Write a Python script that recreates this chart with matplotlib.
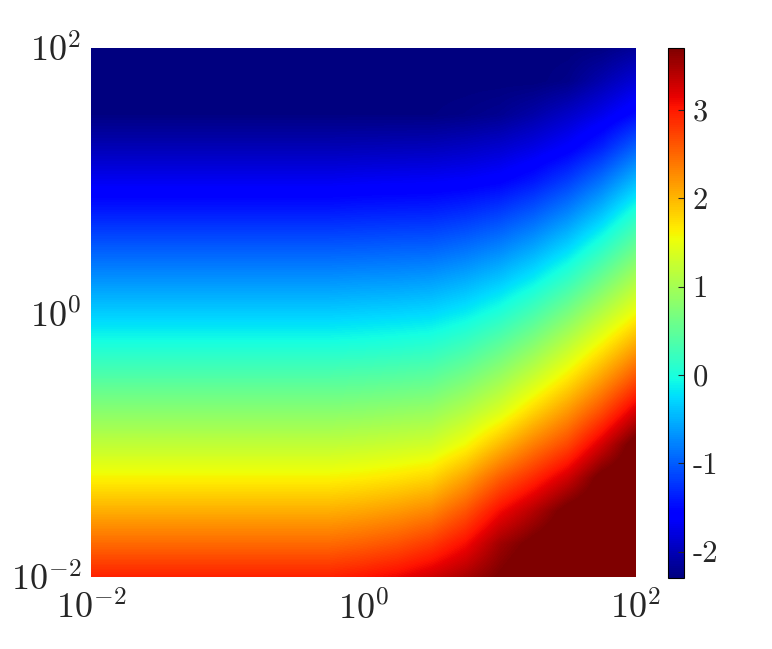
import numpy as np
import matplotlib
matplotlib.use("Agg")
import matplotlib.pyplot as plt

plt.rcParams['mathtext.fontset'] = 'cm'
plt.rcParams['font.family'] = ['cmr10', 'DejaVu Serif']
plt.rcParams['axes.formatter.use_mathtext'] = True

# grid nodes (log10), evenly spaced
log_x = [-2.0, -1.75, -1.5, -1.25, -1.0, -0.75, -0.5, -0.25, 0.0,
         0.25, 0.5, 0.75, 1.0, 1.25, 1.5, 1.75, 2.0]
log_y = [-2.0, -1.75, -1.5, -1.25, -1.0, -0.75, -0.5, -0.25, 0.0,
         0.25, 0.5, 0.75, 1.0, 1.25, 1.5, 1.75, 2.0]

# field values, per column, bottom (1e-2) to top (1e2)
# left half (x < 1) does not change with x
col_left = [2.95, 2.49, 2.05, 1.61, 1.20, 0.80, 0.41, 0.01, -0.34,
            -0.68, -1.02, -1.37, -1.70, -2.01, -2.28, -2.30, -2.30]
col_000 = [3.02, 2.55, 2.10, 1.65, 1.23, 0.83, 0.43, 0.03, -0.32,
           -0.66, -1.01, -1.35, -1.68, -2.00, -2.28, -2.30, -2.30]
col_025 = [3.12, 2.64, 2.18, 1.71, 1.27, 0.87, 0.46, 0.06, -0.30,
           -0.65, -0.99, -1.34, -1.67, -1.99, -2.28, -2.30, -2.30]
col_050 = [3.28, 2.80, 2.30, 1.80, 1.32, 0.91, 0.50, 0.10, -0.27,
           -0.62, -0.98, -1.33, -1.66, -1.98, -2.28, -2.30, -2.30]
col_075 = [3.48, 3.08, 2.62, 2.12, 1.57, 1.11, 0.68, 0.25, -0.16,
           -0.53, -0.90, -1.27, -1.63, -1.94, -2.25, -2.30, -2.30]
col_100 = [3.72, 3.52, 3.08, 2.56, 1.97, 1.40, 0.94, 0.49, 0.03,
           -0.38, -0.78, -1.17, -1.57, -1.88, -2.20, -2.30, -2.30]
col_125 = [3.95, 3.78, 3.42, 2.90, 2.36, 1.81, 1.29, 0.80, 0.32,
           -0.15, -0.58, -1.00, -1.42, -1.77, -2.08, -2.30, -2.30]
col_150 = [4.00, 3.95, 3.80, 3.28, 2.71, 2.20, 1.69, 1.19, 0.68,
           0.17, -0.30, -0.75, -1.19, -1.61, -1.92, -2.24, -2.30]
col_175 = [4.00, 4.00, 3.95, 3.80, 3.26, 2.68, 2.15, 1.63, 1.11,
           0.60, 0.09, -0.40, -0.87, -1.35, -1.73, -2.04, -2.27]
col_200 = [4.00, 4.00, 4.00, 3.95, 3.85, 3.25, 2.65, 2.10, 1.55,
           1.05, 0.55, 0.06, -0.46, -0.97, -1.49, -1.83, -2.15]

clim = (-2.3, 3.7)
cb_ticks = [-2, -1, 0, 1, 2, 3]
cb_labels = ['-2', '-1', '0', '1', '2', '3']
ax_ticks = [1e-2, 1e0, 1e2]
ax_labels = [r'$10^{-2}$', r'$10^{0}$', r'$10^{2}$']

C = np.column_stack([col_left] * 8 + [col_000, col_025, col_050, col_075,
                                      col_100, col_125, col_150, col_175,
                                      col_200])
# image cells centred on the nodes (even spacing in log10 units)
dx = (log_x[1] - log_x[0]) / 2
dy = (log_y[1] - log_y[0]) / 2
extent = [log_x[0] - dx, log_x[-1] + dx, log_y[0] - dy, log_y[-1] + dy]

txt = '#262626'
pos = [0.1179, 0.1109, 0.7059, 0.8151]
fig = plt.figure(figsize=(7.72, 6.49), dpi=100)

# the field, drawn in log10 coordinates on a hidden axes
img_ax = fig.add_axes(pos)
im = img_ax.imshow(C, origin='lower', extent=extent, aspect='auto',
                   cmap='jet', vmin=clim[0], vmax=clim[1],
                   interpolation='bilinear', interpolation_stage='data')
img_ax.set_xlim(log_x[0], log_x[-1])
img_ax.set_ylim(log_y[0], log_y[-1])
img_ax.axis('off')

# log axes on top for the ticks
ax = fig.add_axes(pos)
ax.patch.set_visible(False)
ax.set_xscale('log')
ax.set_yscale('log')
ax.set_xlim(10 ** log_x[0], 10 ** log_x[-1])
ax.set_ylim(10 ** log_y[0], 10 ** log_y[-1])
ax.set_xticks(ax_ticks)
ax.set_xticklabels(ax_labels)
ax.set_yticks(ax_ticks)
ax.set_yticklabels(ax_labels)
ax.minorticks_off()
ax.tick_params(axis='both', length=0, labelsize=26, colors=txt)
ax.tick_params(axis='x', pad=10)
ax.tick_params(axis='y', pad=7)
for s in ax.spines.values():
    s.set_visible(False)

cax = fig.add_axes([0.8653, 0.1094, 0.0207, 0.8166])
cb = fig.colorbar(im, cax=cax)
cb.set_ticks(cb_ticks)
cb.set_ticklabels(cb_labels)
cb.outline.set_linewidth(0.8)
cax.tick_params(direction='in', length=4, width=0.8, labelsize=22,
                colors=txt, pad=6)
for lab in cax.get_yticklabels():
    lab.set_fontfamily('cmr10')

fig.savefig('out.png', dpi=100)
